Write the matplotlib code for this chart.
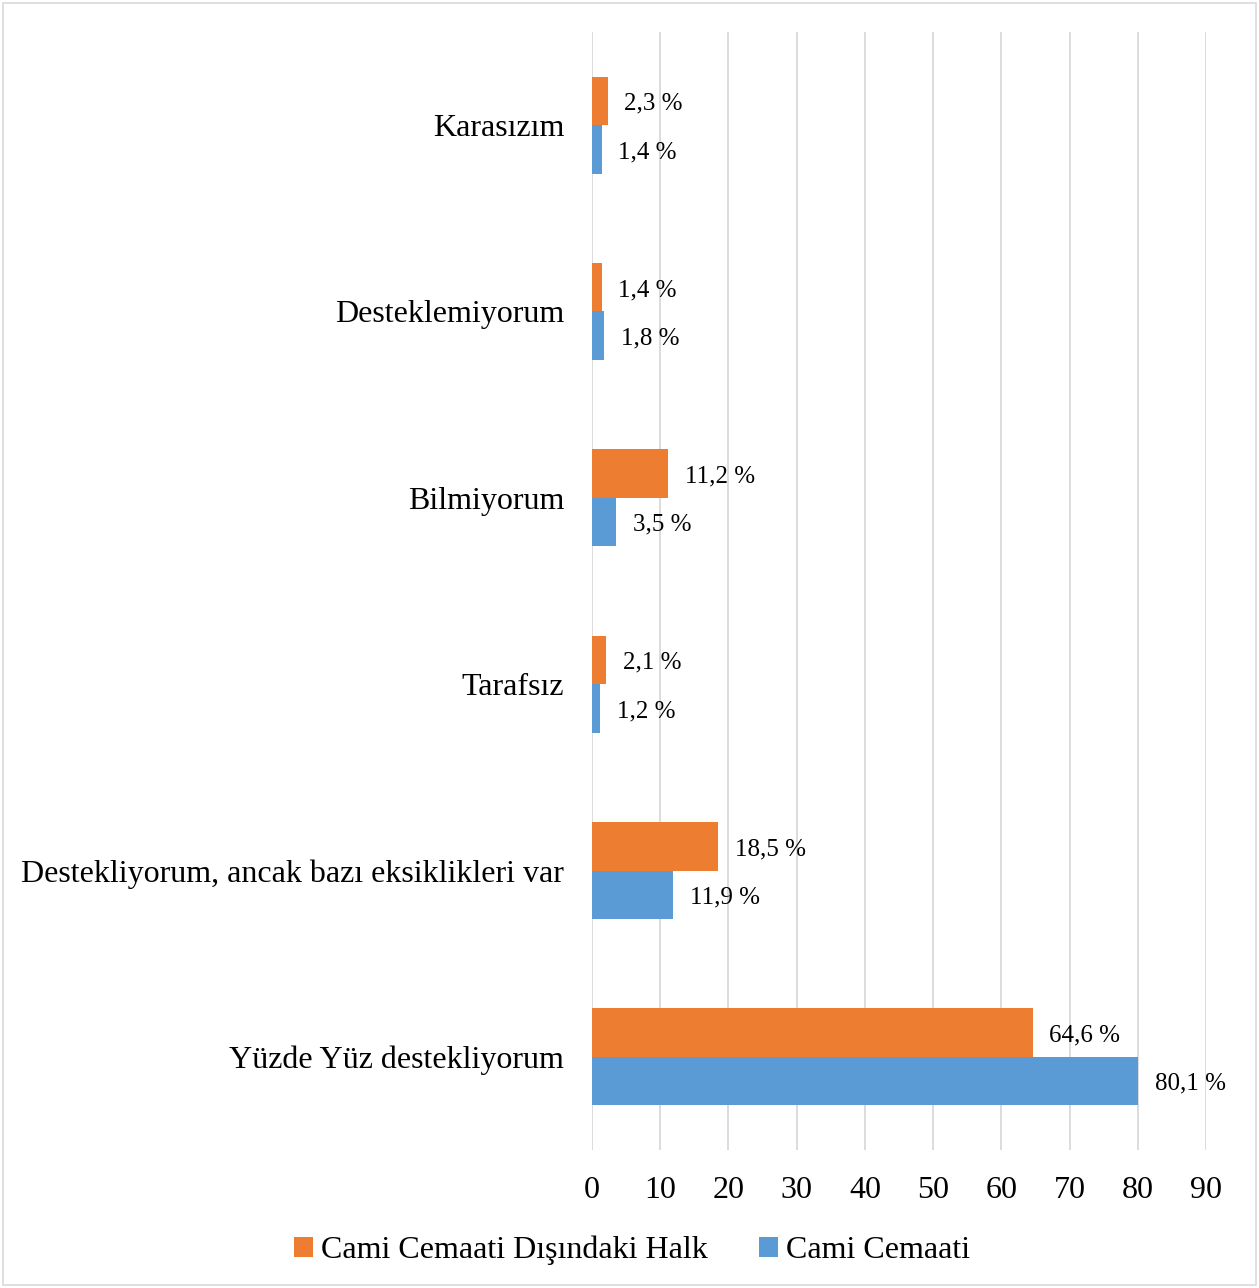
import matplotlib.pyplot as plt
import numpy as np

plt.rcParams['font.family'] = ['Liberation Serif', 'DejaVu Serif']

categories = ['Yüzde Yüz destekliyorum',
              'Destekliyorum, ancak bazı eksiklikleri var',
              'Tarafsız', 'Bilmiyorum', 'Desteklemiyorum', 'Karasızım']
halk = [64.6, 18.5, 2.1, 11.2, 1.4, 2.3]      # Cami Cemaati Dışındaki Halk
cemaat = [80.1, 11.9, 1.2, 3.5, 1.8, 1.4]     # Cami Cemaati
xticks = [0, 10, 20, 30, 40, 50, 60, 70, 80, 90]

orange = '#ED7D31'
blue = '#5B9BD5'

fig = plt.figure(figsize=(12.59, 12.88), dpi=100)
ax = fig.add_axes([0.4702, 0.1071, 0.4877, 0.8681])

y = np.arange(len(categories))
h = 0.26
b1 = ax.barh(y + h / 2, halk, height=h, color=orange, label='Cami Cemaati Dışındaki Halk', zorder=3)
b2 = ax.barh(y - h / 2, cemaat, height=h, color=blue, label='Cami Cemaati', zorder=3)

for bars, vals in ((b1, halk), (b2, cemaat)):
    for bar, v in zip(bars, vals):
        ax.annotate(f'{v:.1f} %'.replace('.', ','),
                    (bar.get_width(), bar.get_y() + bar.get_height() / 2),
                    xytext=(12, -2), textcoords='offset points',
                    va='center', ha='left', fontsize=18)

ax.set_xlim(0, 90)
ax.set_ylim(-0.5, len(categories) - 0.5)
ax.set_xticks(xticks)
ax.set_yticks(y)
ax.set_yticklabels(categories)
ax.tick_params(axis='x', labelsize=23, length=0, pad=19)
ax.tick_params(axis='y', labelsize=23, length=0, pad=20)
ax.grid(axis='x', color='#D9D9D9', linewidth=1.3, zorder=0)
for s in ax.spines.values():
    s.set_visible(False)

fig.legend(loc='center', bbox_to_anchor=(0.502, 0.029), ncol=2, frameon=False,
           fontsize=23, handlelength=0.6, handleheight=0.6, handletextpad=0.25,
           columnspacing=1.6)

fig.patches.append(plt.Rectangle((0.002, 0.002), 0.996, 0.996, transform=fig.transFigure,
                                 fill=False, edgecolor='#D9D9D9', linewidth=1.2))

fig.savefig('out.png', dpi=100)
